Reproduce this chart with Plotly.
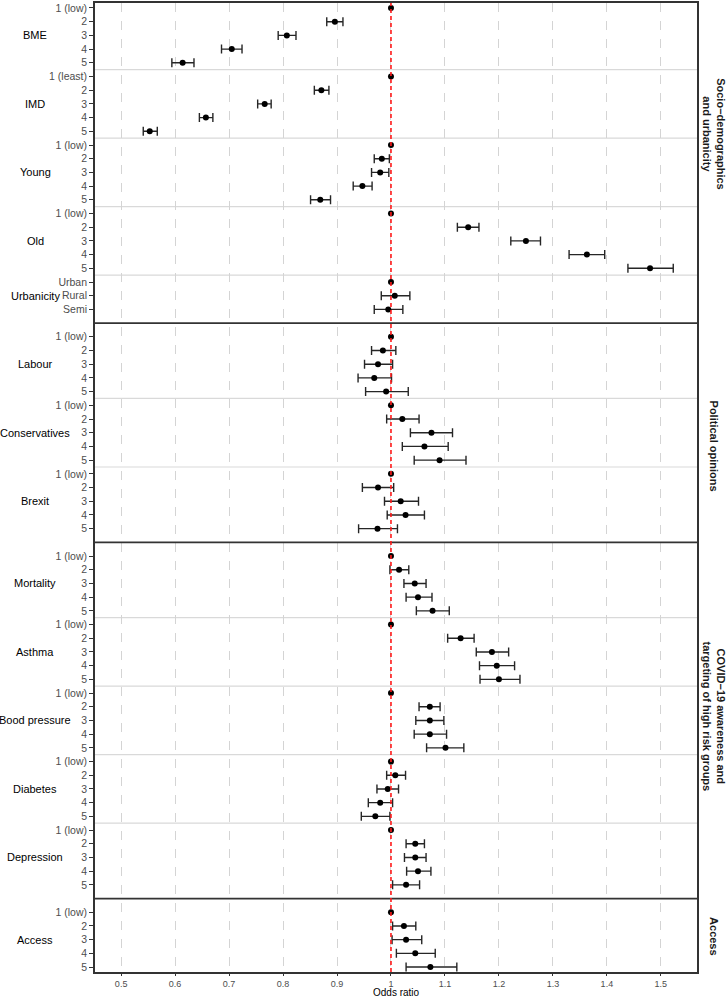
import plotly.graph_objects as go

# ---- data ----
levels5 = ["1 (low)", "2", "3", "4", "5"]
levels_imd = ["1 (least)", "2", "3", "4", "5"]
levels_urban = ["Urban", "Rural", "Semi"]

bme_or = [1.0, 0.896, 0.807, 0.705, 0.614]
bme_lo = [None, 0.881, 0.791, 0.686, 0.594]
bme_hi = [None, 0.911, 0.824, 0.724, 0.635]

imd_or = [1.0, 0.871, 0.766, 0.657, 0.553]
imd_lo = [None, 0.858, 0.753, 0.645, 0.541]
imd_hi = [None, 0.885, 0.778, 0.670, 0.567]

young_or = [1.0, 0.983, 0.980, 0.947, 0.869]
young_lo = [None, 0.969, 0.964, 0.930, 0.851]
young_hi = [None, 0.997, 0.996, 0.965, 0.888]

old_or = [1.0, 1.143, 1.250, 1.363, 1.480]
old_lo = [None, 1.123, 1.222, 1.330, 1.439]
old_hi = [None, 1.163, 1.277, 1.396, 1.523]

urban_or = [1.0, 1.007, 0.995]
urban_lo = [None, 0.982, 0.969]
urban_hi = [None, 1.035, 1.022]

labour_or = [1.0, 0.985, 0.976, 0.969, 0.991]
labour_lo = [None, 0.964, 0.951, 0.939, 0.953]
labour_hi = [None, 1.009, 1.003, 1.001, 1.032]

cons_or = [1.0, 1.021, 1.075, 1.062, 1.090]
cons_lo = [None, 0.992, 1.036, 1.021, 1.043]
cons_hi = [None, 1.052, 1.114, 1.106, 1.139]

brexit_or = [1.0, 0.976, 1.018, 1.027, 0.975]
brexit_lo = [None, 0.947, 0.988, 0.993, 0.940]
brexit_hi = [None, 1.005, 1.051, 1.062, 1.012]

mort_or = [1.0, 1.015, 1.044, 1.050, 1.077]
mort_lo = [None, 0.998, 1.024, 1.028, 1.047]
mort_hi = [None, 1.033, 1.065, 1.076, 1.108]

asthma_or = [1.0, 1.129, 1.187, 1.196, 1.200]
asthma_lo = [None, 1.105, 1.158, 1.164, 1.165]
asthma_hi = [None, 1.154, 1.218, 1.229, 1.239]

bp_or = [1.0, 1.072, 1.072, 1.072, 1.101]
bp_lo = [None, 1.052, 1.046, 1.043, 1.066]
bp_hi = [None, 1.091, 1.098, 1.103, 1.135]

diab_or = [1.0, 1.008, 0.994, 0.980, 0.971]
diab_lo = [None, 0.992, 0.974, 0.958, 0.945]
diab_hi = [None, 1.027, 1.014, 1.003, 0.998]

depr_or = [1.0, 1.045, 1.045, 1.050, 1.028]
depr_lo = [None, 1.028, 1.025, 1.029, 1.003]
depr_hi = [None, 1.062, 1.065, 1.074, 1.053]

access_or = [1.0, 1.024, 1.028, 1.045, 1.073]
access_lo = [None, 1.003, 1.002, 1.010, 1.028]
access_hi = [None, 1.046, 1.057, 1.082, 1.122]

x_ticks = [0.5, 0.6, 0.7, 0.8, 0.9, 1.0, 1.1, 1.2, 1.3, 1.4, 1.5]
x_ticktext = ["0.5", "0.6", "0.7", "0.8", "0.9", "1", "1.1", "1.2", "1.3", "1.4", "1.5"]

panels = [
    ("Socio\u2212demographics<br>and urbanicity", [
        ("BME", levels5, bme_or, bme_lo, bme_hi),
        ("IMD", levels_imd, imd_or, imd_lo, imd_hi),
        ("Young", levels5, young_or, young_lo, young_hi),
        ("Old", levels5, old_or, old_lo, old_hi),
        ("Urbanicity", levels_urban, urban_or, urban_lo, urban_hi),
    ]),
    ("Political opinions", [
        ("Labour", levels5, labour_or, labour_lo, labour_hi),
        ("Conservatives", levels5, cons_or, cons_lo, cons_hi),
        ("Brexit", levels5, brexit_or, brexit_lo, brexit_hi),
    ]),
    ("COVID\u221219 awareness and<br>targeting of high risk groups", [
        ("Mortality", levels5, mort_or, mort_lo, mort_hi),
        ("Asthma", levels5, asthma_or, asthma_lo, asthma_hi),
        ("Bood pressure", levels5, bp_or, bp_lo, bp_hi),
        ("Diabetes", levels5, diab_or, diab_lo, diab_hi),
        ("Depression", levels5, depr_or, depr_lo, depr_hi),
    ]),
    ("Access", [
        ("Access", levels5, access_or, access_lo, access_hi),
    ]),
]
# where the strip titles sit (in row units), as in the reference
strip_pos = [9.2, 32.0, 51.7, 67.8]

FONT = "Liberation Sans, Arial, Helvetica, sans-serif"
GREY30 = "#4d4d4d"

# ---- lay out rows ----
tick_y, tick_lab = [], []
ref_x, ref_y = [], []
est_x, est_y, err_plus, err_minus = [], [], [], []
group_labels = []
thin_lines = []
thick_lines = []

y = 0
for p, (title, groups) in enumerate(panels):
    if p > 0:
        thick_lines.append(y)
        y += 1
    for g, (name, labs, ors, los, his) in enumerate(groups):
        if g > 0:
            thin_lines.append(y - 0.5)
        first = y
        for lab, o, lo, hi in zip(labs, ors, los, his):
            tick_y.append(y)
            tick_lab.append(lab)
            if lo is None:
                ref_x.append(o)
                ref_y.append(y)
            else:
                est_x.append(o)
                est_y.append(y)
                err_plus.append(hi - o)
                err_minus.append(o - lo)
            y += 1
        group_labels.append((name, first + (len(labs) - 1) / 2))

fig = go.Figure()

fig.add_trace(go.Scatter(
    x=est_x, y=est_y, mode="markers",
    marker=dict(size=6, color="black"),
    error_x=dict(type="data", symmetric=False, array=err_plus, arrayminus=err_minus,
                 color="#262626", thickness=1.4, width=4.5),
    showlegend=False,
))
fig.add_trace(go.Scatter(
    x=ref_x, y=ref_y, mode="markers",
    marker=dict(size=6, color="black"),
    showlegend=False,
))

shapes = []
for ly in thin_lines:
    shapes.append(dict(type="line", xref="paper", x0=0, x1=1, yref="y", y0=ly, y1=ly,
                       line=dict(color="#d9d9d9", width=1.2), layer="between"))
for ly in thick_lines:
    shapes.append(dict(type="line", xref="paper", x0=0, x1=1, yref="y", y0=ly, y1=ly,
                       line=dict(color="#333333", width=1.8), layer="above"))
shapes.append(dict(type="line", xref="x", x0=1, x1=1, yref="paper", y0=0, y1=1,
                   line=dict(color="#ff1a1a", width=1.6, dash="4px,3px"), layer="above"))

annotations = []
for name, gy in group_labels:
    annotations.append(dict(text=name, xref="paper", x=-0.099, yref="y", y=gy,
                            xanchor="center", yanchor="middle", showarrow=False,
                            font=dict(family=FONT, size=11, color="black")))
for (title, _), sy in zip(panels, strip_pos):
    annotations.append(dict(text="<b>" + title + "</b>", xref="paper", x=1.028, yref="y", y=sy,
                            xanchor="center", yanchor="middle", showarrow=False, textangle=90,
                            font=dict(family=FONT, size=11, color="#1a1a1a")))
annotations.append(dict(text="Odds ratio", xref="paper", x=0.5, yref="paper", y=-0.0216,
                        xanchor="center", yanchor="middle", showarrow=False,
                        font=dict(family=FONT, size=10, color="black")))

fig.update_layout(
    width=726, height=999,
    margin=dict(l=95, r=29, t=1, b=27),
    paper_bgcolor="white", plot_bgcolor="white",
    font=dict(family=FONT),
    shapes=shapes,
    annotations=annotations,
    xaxis=dict(
        range=[0.4516, 1.567], tickvals=x_ticks, ticktext=x_ticktext,
        showgrid=True, gridcolor="#d4d4d4", griddash="dash", gridwidth=1,
        zeroline=False, showline=True, mirror=True, linecolor="#333333", linewidth=1.8,
        ticks="outside", ticklen=2, tickcolor="#333333",
        tickfont=dict(family=FONT, size=9, color=GREY30),
    ),
    yaxis=dict(
        range=[70.36, -0.364], tickvals=tick_y, ticktext=tick_lab,
        showgrid=False, zeroline=False, showline=True, mirror=True,
        linecolor="#333333", linewidth=1.8,
        ticks="outside", ticklen=4, tickcolor="#333333",
        tickfont=dict(family=FONT, size=10.5, color=GREY30),
    ),
)

# page has a default 8px body margin; drop it so the figure fills the window
fig.write_html(
    "out.html",
    config={"displayModeBar": False},
    post_script="document.body.style.margin='0';document.body.style.overflow='hidden';",
)
